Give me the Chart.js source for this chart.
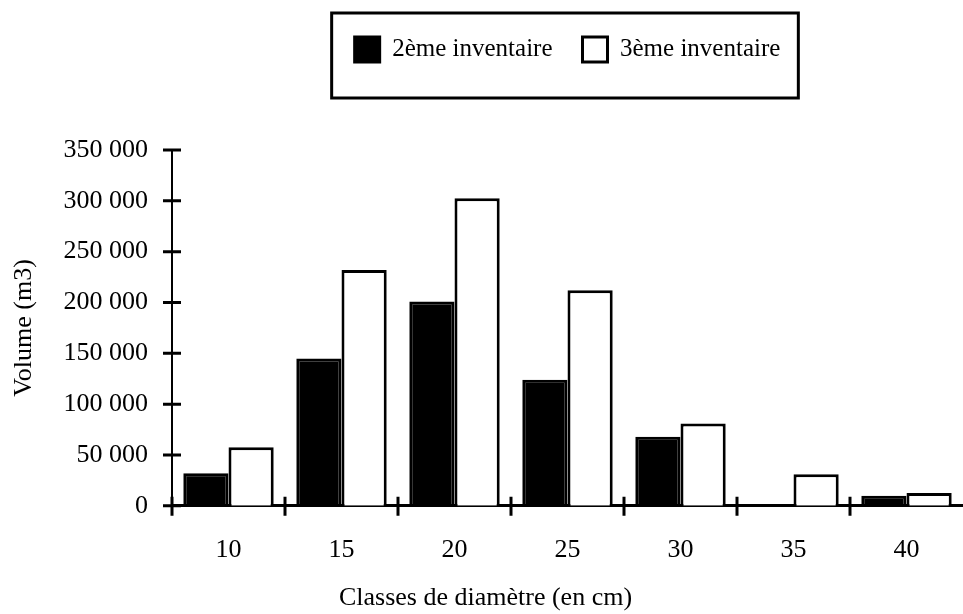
<!DOCTYPE html>
<html lang="fr">
<head>
    <meta charset="UTF-8">
    <title>Volume par classe de diamètre</title>
    <script src="https://cdn.jsdelivr.net/npm/chart.js"></script>
    <style>
        body {
            margin: 0;
            padding: 0;
            background-color: #ffffff;
        }
        .container {
            position: relative;
            width: 963px;
            height: 614px;
        }
    </style>
</head>
<body>
    <div class="container">
        <canvas id="volumeChart"></canvas>
    </div>
    <script>
        // classes de diamètre (cm)
        const classes = ['10', '15', '20', '25', '30', '35', '40'];
        // volumes (m3)
        const inventaire2 = [32000, 145000, 201000, 124000, 68000, 0, 10000];
        const inventaire3 = [57500, 232000, 302500, 212000, 81000, 31000, 12500];
        const yTicks = ['0', '50 000', '100 000', '150 000', '200 000', '250 000', '300 000', '350 000'];

        const serif = '"Liberation Serif", "Times New Roman", serif';

        // cadre autour de la légende
        const legendFrame = {
            id: 'legendFrame',
            beforeInit(chart) {
                const fit = chart.legend.fit;
                chart.legend.fit = function () {
                    fit.call(this);
                    this.height = 143;
                };
            },
            afterDraw(chart) {
                const boxes = chart.legend.legendHitBoxes;
                if (!boxes || !boxes.length) return;
                const first = boxes[0];
                const last = boxes[boxes.length - 1];
                const ctx = chart.ctx;
                const left = first.left - 23;
                const right = last.left + last.width + 18;
                const top = chart.legend.top + 6;
                ctx.save();
                ctx.strokeStyle = '#000';
                ctx.lineWidth = 3;
                ctx.strokeRect(left, top, right - left, 85);
                ctx.restore();
            }
        };

        // graduations qui traversent les axes
        const crossTicks = {
            id: 'crossTicks',
            afterDraw(chart) {
                const ctx = chart.ctx;
                const x = chart.scales.x;
                const y = chart.scales.y;
                const area = chart.chartArea;
                ctx.save();
                ctx.strokeStyle = '#000';
                ctx.lineWidth = 3;
                ctx.beginPath();
                y.ticks.forEach((t, i) => {
                    const py = y.getPixelForTick(i);
                    ctx.moveTo(area.left - 9, py);
                    ctx.lineTo(area.left + 9, py);
                });
                for (let i = 0; i < classes.length; i++) {
                    const px = i === 0 ? area.left
                        : (x.getPixelForValue(i) + x.getPixelForValue(i - 1)) / 2;
                    ctx.moveTo(px, area.bottom - 9);
                    ctx.lineTo(px, area.bottom + 10);
                }
                ctx.stroke();
                ctx.restore();
            }
        };

        new Chart(document.getElementById('volumeChart'), {
            type: 'bar',
            data: {
                labels: classes,
                datasets: [{
                    label: '2ème inventaire',
                    data: inventaire2,
                    backgroundColor: '#000',
                    borderColor: '#000',
                    borderWidth: 3
                }, {
                    label: '3ème inventaire',
                    data: inventaire3,
                    backgroundColor: '#fff',
                    borderColor: '#000',
                    borderWidth: 3
                }]
            },
            options: {
                responsive: true,
                maintainAspectRatio: false,
                animation: false,
                categoryPercentage: 0.8,
                barPercentage: 1.0,
                layout: {
                    padding: { top: 7, left: 8, right: 0, bottom: 0 }
                },
                plugins: {
                    legend: {
                        position: 'top',
                        fullSize: false,
                        labels: {
                            boxWidth: 25,
                            boxHeight: 25,
                            padding: 30,
                            color: '#000',
                            font: { family: serif, size: 25 }
                        }
                    },
                    title: {
                        display: true,
                        position: 'bottom',
                        text: 'Classes de diamètre (en cm)',
                        color: '#000',
                        font: { family: serif, size: 26, weight: 'normal' },
                        padding: { top: 17, bottom: 0 }
                    },
                    tooltip: { enabled: false }
                },
                scales: {
                    x: {
                        offset: true,
                        grid: { display: false, drawTicks: false },
                        border: { color: '#000', width: 3 },
                        ticks: {
                            color: '#000',
                            padding: 29,
                            font: { family: serif, size: 26 }
                        },
                        afterFit: (scale) => { scale.height = 60; }
                    },
                    y: {
                        min: 0,
                        max: 350000,
                        grid: { display: false, drawTicks: false },
                        border: { color: '#000', width: 2 },
                        ticks: {
                            stepSize: 50000,
                            color: '#000',
                            padding: 24,
                            font: { family: serif, size: 26 },
                            callback: (v, i) => yTicks[i]
                        },
                        title: {
                            display: true,
                            text: 'Volume (m3)',
                            color: '#000',
                            font: { family: serif, size: 26 },
                            padding: { top: 1, bottom: 0 }
                        },
                        afterFit: (scale) => { scale.width = 164; }
                    }
                }
            },
            plugins: [legendFrame, crossTicks]
        });
    </script>
</body>
</html>
